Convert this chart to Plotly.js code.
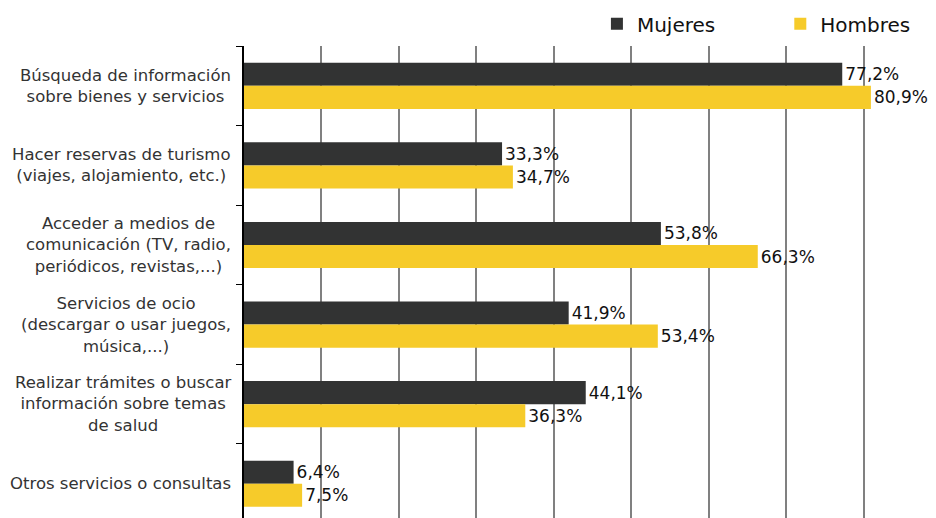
<!DOCTYPE html>
<html><head><meta charset="utf-8">
<script src="https://cdn.plot.ly/plotly-3.0.1.min.js"></script>
<style>body{margin:0;padding:0;background:#fff}#c{width:936px;height:518px}</style>
</head><body><div id="c"></div>
<script>
const categories = [
  "Búsqueda de información<br>sobre bienes y servicios",
  "Hacer reservas de turismo<br>(viajes, alojamiento, etc.)",
  "Acceder a medios de<br>comunicación (TV, radio,<br>periódicos, revistas,...)",
  "Servicios de ocio<br>(descargar o usar juegos,<br>música,...)",
  "Realizar trámites o buscar<br>información sobre temas<br>de salud",
  "Otros servicios o consultas"
];
const mujeres = [77.2, 33.3, 53.8, 41.9, 44.1, 6.4];
const hombres = [80.9, 34.7, 66.3, 53.4, 36.3, 7.5];
const seriesNames = ["Mujeres", "Hombres"];

const fmt = v => v.toFixed(1).replace('.', ',') + '%';
const font = "DejaVu Sans, Verdana, sans-serif";

function trace(name, vals, color, legend) {
  return {
    type: 'bar', orientation: 'h', name: name, legend: legend,
    y: categories, x: vals,
    marker: {color: color},
    text: vals.map(fmt), textposition: 'outside', cliponaxis: false,
    textfont: {family: font, size: 17, color: '#111'},
    hoverinfo: 'skip'
  };
}

const data = [
  trace(seriesNames[0], mujeres, '#323333', 'legend'),
  trace(seriesNames[1], hombres, '#F6CB2A', 'legend2')
];

const annotations = categories.map(c => ({
  xref: 'paper', yref: 'y', x: 0, y: c, xanchor: 'right', yanchor: 'middle',
  xshift: -11, text: c, showarrow: false, align: 'center',
  font: {family: font, size: 16.5, color: '#333'}
}));

const legBase = {orientation: 'h', yref: 'container', y: 0.954, xanchor: 'left', yanchor: 'middle',
  font: {family: font, size: 20, color: '#111'}, bgcolor: 'rgba(0,0,0,0)', itemclick: false};

const layout = {
  width: 936, height: 518,
  margin: {l: 244, r: 0, t: 46, b: 0},
  paper_bgcolor: '#fff', plot_bgcolor: '#fff',
  barmode: 'group', bargap: 0.42, bargroupgap: 0,
  showlegend: true,
  legend: Object.assign({}, legBase, {x: 0.51}),
  legend2: Object.assign({}, legBase, {x: 0.775}),
  xaxis: {range: [0, 89.3], dtick: 10, showgrid: true, gridcolor: '#808080', gridwidth: 2,
    zeroline: false, showline: false, showticklabels: false, ticks: '', fixedrange: true},
  yaxis: {range: [5.43, -0.5], showgrid: false, zeroline: false, showline: true,
    linecolor: '#000', linewidth: 2, ticks: 'outside', ticklen: 6, tickcolor: '#000',
    tickson: 'boundaries', showticklabels: false, fixedrange: true},
  annotations: annotations,
  font: {family: font}
};

Plotly.newPlot('c', data, layout, {displayModeBar: false, staticPlot: true});
</script></body></html>
